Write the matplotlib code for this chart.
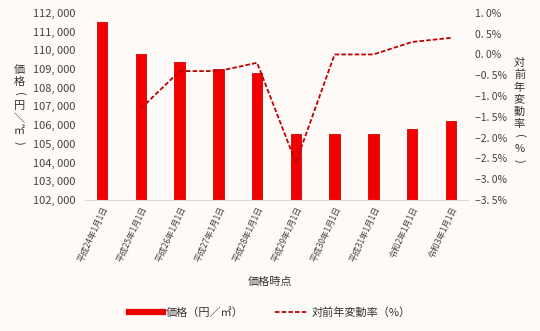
import matplotlib
matplotlib.use("Agg")
import matplotlib.pyplot as plt
from matplotlib.lines import Line2D
from matplotlib.ticker import FuncFormatter

plt.rcParams['font.family'] = ['Noto Sans CJK JP', 'DejaVu Sans']

dates = ["平成24年1月1日", "平成25年1月1日", "平成26年1月1日", "平成27年1月1日",
         "平成28年1月1日", "平成29年1月1日", "平成30年1月1日", "平成31年1月1日",
         "令和2年1月1日", "令和3年1月1日"]
prices = [111500, 109800, 109400, 109000, 108800, 105500, 105500, 105500, 105800, 106200]
change = [None, -1.3, -0.4, -0.4, -0.2, -2.6, 0.0, 0.0, 0.3, 0.4]

bg = "#fdfaf8"
fig = plt.figure(figsize=(5.4, 3.31), dpi=100, facecolor=bg)
ax = fig.add_axes([0.157, 0.396, 0.71, 0.565], facecolor=bg)
x = list(range(len(dates)))
ax.bar(x, [p - 102000 for p in prices], bottom=102000, width=0.27,
       color="#f20000", edgecolor="#d80000", linewidth=0.6)
ax.set_ylim(102000, 112000)
ax.set_yticks(range(102000, 112001, 1000))
ax.yaxis.set_major_formatter(FuncFormatter(lambda v, p: f"{int(v):,}".replace(",", ", ")))
ax.set_xlim(-0.45, len(dates) - 0.55)
ax.set_xticks(x)
ax.set_xticklabels(dates, rotation=65, ha="right", rotation_mode="anchor", fontsize=6, color="#444444")
ax.tick_params(axis="both", length=0, colors="#444444")
ax.tick_params(axis="y", labelsize=8, pad=7)
for s in ["top", "right", "left"]:
    ax.spines[s].set_visible(False)
ax.spines["bottom"].set_color("#d9d9d9")

ax2 = ax.twinx()
xs = [i for i, c in enumerate(change) if c is not None]
ys = [c for c in change if c is not None]
ax2.plot(xs, ys, color="#c00000", linestyle=(0, (2.5, 1.2)), linewidth=1.3)
ax2.set_ylim(-3.5, 1.0)
ax2.set_yticks([-3.5, -3.0, -2.5, -2.0, -1.5, -1.0, -0.5, 0.0, 0.5, 1.0])
ax2.yaxis.set_major_formatter(FuncFormatter(lambda v, p: f"{v:.1f}%".replace("-", "−").replace(".", ". ")))
ax2.tick_params(axis="y", length=0, labelsize=7.5, colors="#444444", pad=5)
for s in ["top", "right", "left", "bottom"]:
    ax2.spines[s].set_visible(False)

# vertical (stacked) axis titles, one character per row; brackets turned sideways
left_title = ["価", "格", "(", "円", "＼", "㎡", ")"]
right_title = ["対", "前", "年", "変", "動", "率", "(", "%", ")"]
step = 0.037
for col, start, chars in [(0.036, 0.79, left_title), (0.962, 0.81, right_title)]:
    for i, ch in enumerate(chars):
        rot = -90 if ch in "()" else 0
        fig.text(col, start - i * step, ch, ha="center", va="center", fontsize=8,
                 color="#333333", rotation=rot)
fig.text(0.5, 0.148, "価格時点", ha="center", va="center", fontsize=8, color="#333333")

handles = [Line2D([], [], color="#f20000", linewidth=4.5),
           Line2D([], [], color="#c00000", linestyle=(0, (2.5, 1.2)), linewidth=1.3)]
fig.legend(handles, ["価格（円／㎡）", "対前年変動率（%）"], loc="center", bbox_to_anchor=(0.5, 0.055),
           ncol=2, frameon=False, fontsize=8, handlelength=3.0, columnspacing=2.8, handletextpad=0.3,
           labelcolor="#333333")

fig.savefig("out.png", dpi=100, facecolor=bg)
